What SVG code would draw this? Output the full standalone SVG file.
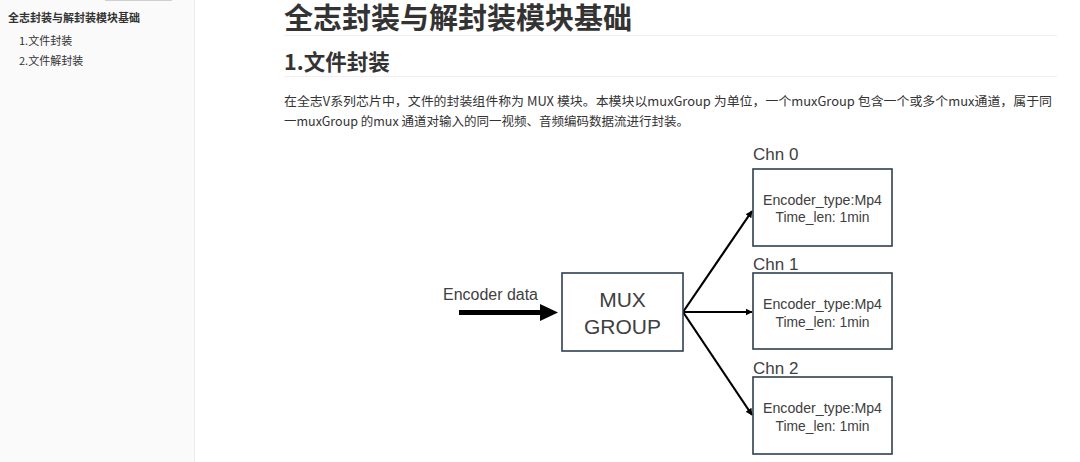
<svg xmlns="http://www.w3.org/2000/svg" width="1080" height="462" viewBox="0 0 1080 462">
<defs>
<style>
.cjk{font-family:"Noto Sans CJK SC","Noto Sans",sans-serif}
.side{font-size:11px;fill:#333}
.dg{font-family:"Liberation Sans","Noto Sans",sans-serif;fill:#404040}
.box{fill:#fff;stroke:#2f3f4f;stroke-width:1.6}
.conn{stroke:#000;stroke-width:2.2;fill:none}
</style>
<marker id="ah" viewBox="0 0 10 10" refX="9" refY="5" markerWidth="3.2" markerHeight="3.2" orient="auto" markerUnits="strokeWidth">
<path d="M0,0 L10,5 L0,10 z" fill="#000"/>
</marker>
</defs>
<rect x="0" y="0" width="1080" height="462" fill="#fff"/>
<g id="sidebar">
<rect x="0" y="0" width="194" height="462" fill="#fafafa"/>
<line x1="194.5" y1="0" x2="194.5" y2="462" stroke="#ececec" stroke-width="1"/>
<line x1="105" y1="0.5" x2="172" y2="0.5" stroke="#d0d0d0" stroke-width="1"/>
<text class="cjk side" x="8" y="22" font-weight="bold" fill="#222">全志封装与解封装模块基础</text>
<text class="cjk side" x="19" y="45">1.文件封装</text>
<text class="cjk side" x="19" y="65">2.文件解封装</text>
</g>
<g id="content">
<text class="cjk" x="284" y="29" font-size="29" font-weight="bold" fill="#333" textLength="348" lengthAdjust="spacingAndGlyphs">全志封装与解封装模块基础</text>
<line x1="284" y1="35.5" x2="1057" y2="35.5" stroke="#eeeeee" stroke-width="1"/>
<text class="cjk" x="284" y="70" font-size="21.5" font-weight="bold" fill="#333">1.文件封装</text>
<line x1="284" y1="76.5" x2="1057" y2="76.5" stroke="#eeeeee" stroke-width="1"/>
<text class="cjk" x="284" y="106" font-size="12.5" fill="#333" textLength="768" lengthAdjust="spacingAndGlyphs">在全志V系列芯片中，文件的封装组件称为 MUX 模块。本模块以muxGroup 为单位，一个muxGroup 包含一个或多个mux通道，属于同</text>
<text class="cjk" x="284" y="126" font-size="12.5" fill="#333">一muxGroup 的mux 通道对输入的同一视频、音频编码数据流进行封装。</text>
</g>
<g id="connectors">
<line x1="459" y1="312.5" x2="542" y2="312.5" stroke="#000" stroke-width="5"/>
<path d="M540,304 L558,312.5 L540,321 z" fill="#000"/>
<line class="conn" x1="683" y1="312" x2="752" y2="211" marker-end="url(#ah)"/>
<line class="conn" x1="683" y1="312" x2="752" y2="312" marker-end="url(#ah)"/>
<line class="conn" x1="683" y1="312" x2="752" y2="415" marker-end="url(#ah)"/>
</g>
<g id="input-label">
<text class="dg" x="443" y="300" font-size="16" textLength="95" lengthAdjust="spacingAndGlyphs">Encoder data</text>
</g>
<g id="mux">
<rect class="box" x="562" y="273" width="121" height="78"/>
<text class="dg" x="622.5" y="307" font-size="21" text-anchor="middle">MUX</text>
<text class="dg" x="622.5" y="334" font-size="21" text-anchor="middle">GROUP</text>
</g>
<g id="chn0">
<text class="dg" x="753" y="160" font-size="17">Chn 0</text>
<rect class="box" x="753" y="169" width="139" height="77"/>
<text class="dg" x="822.5" y="205" font-size="14.5" text-anchor="middle" textLength="119" lengthAdjust="spacingAndGlyphs">Encoder_type:Mp4</text>
<text class="dg" x="822.5" y="222" font-size="14.5" text-anchor="middle" textLength="94" lengthAdjust="spacingAndGlyphs">Time_len: 1min</text>
</g>
<g id="chn1">
<text class="dg" x="753" y="270" font-size="17">Chn 1</text>
<rect class="box" x="753" y="273" width="139" height="76"/>
<text class="dg" x="822.5" y="309" font-size="14.5" text-anchor="middle" textLength="119" lengthAdjust="spacingAndGlyphs">Encoder_type:Mp4</text>
<text class="dg" x="822.5" y="327" font-size="14.5" text-anchor="middle" textLength="94" lengthAdjust="spacingAndGlyphs">Time_len: 1min</text>
</g>
<g id="chn2">
<text class="dg" x="753" y="374" font-size="17">Chn 2</text>
<rect class="box" x="753" y="377" width="139" height="77"/>
<text class="dg" x="822.5" y="413" font-size="14.5" text-anchor="middle" textLength="119" lengthAdjust="spacingAndGlyphs">Encoder_type:Mp4</text>
<text class="dg" x="822.5" y="431" font-size="14.5" text-anchor="middle" textLength="94" lengthAdjust="spacingAndGlyphs">Time_len: 1min</text>
</g>
</svg>
